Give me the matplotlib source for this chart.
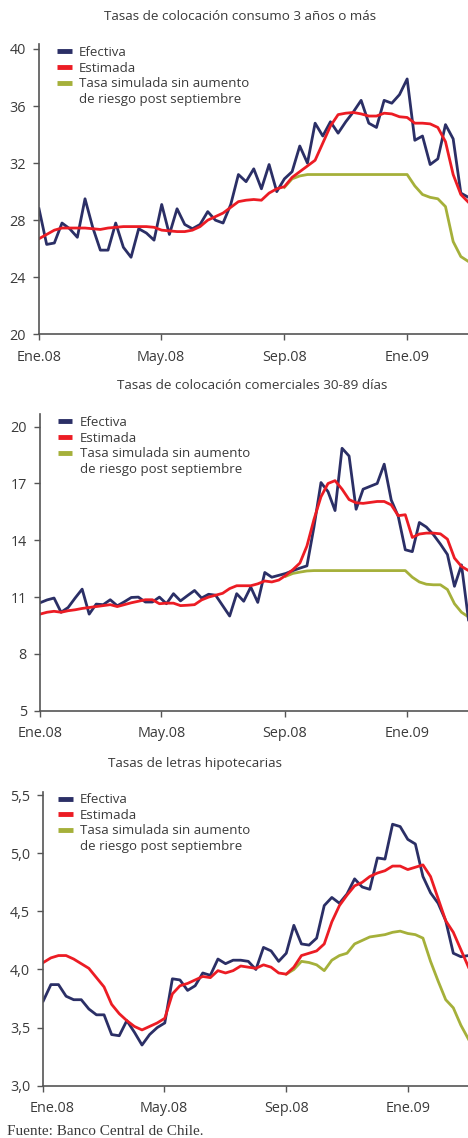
import numpy as np
import matplotlib
matplotlib.use("Agg")
import matplotlib.pyplot as plt
from matplotlib.lines import Line2D
from matplotlib.transforms import ScaledTranslation

plt.rcParams['font.family'] = ['Open Sans', 'DejaVu Sans']

AZUL = '#2b2f66'
ROJO = '#ec1c24'
VERDE = '#a5b03a'
GRIS = '#3a3a3a'
EJE = '#555555'

# eje x en días desde el 1 de enero de 2008
tick_dias = [0, 121, 244, 366]
tick_meses = ['Ene.08', 'May.08', 'Sep.08', 'Ene.09']

# Tasas de colocación consumo 3 años o más (4 obs. por mes)
cons_efectiva = [28.8, 26.3, 26.4, 27.8, 27.4, 26.8, 29.5, 27.5, 25.9, 25.9,
                 27.8, 26.1, 25.4, 27.4, 27.1, 26.6, 29.1, 27.0, 28.8, 27.7,
                 27.4, 27.7, 28.6, 28.0, 27.8, 29.1, 31.2, 30.7, 31.6, 30.2,
                 31.9, 30.0, 30.9, 31.4, 33.2, 32.0, 34.8, 33.9, 34.9, 34.1,
                 34.9, 35.6, 36.4, 34.8, 34.5, 36.4, 36.2, 36.8, 37.9, 33.6,
                 33.9, 31.9, 32.3, 34.7, 33.7, 29.9, 29.6]
cons_estimada = [26.7, 27.0, 27.3, 27.45, 27.45, 27.45, 27.45, 27.4, 27.35, 27.45,
                 27.5, 27.55, 27.55, 27.55, 27.55, 27.5, 27.3, 27.25, 27.2, 27.2,
                 27.3, 27.55, 28.0, 28.25, 28.5, 28.9, 29.3, 29.4, 29.45, 29.4,
                 29.9, 30.2, 30.35, 31.0, 31.4, 31.8, 32.2, 33.4, 34.6, 35.4,
                 35.5, 35.55, 35.45, 35.3, 35.3, 35.5, 35.45, 35.25, 35.2, 34.8,
                 34.8, 34.75, 34.5, 33.5, 31.2, 29.8, 29.25]
# desde Sep.08
cons_simulada = [30.3, 30.9, 31.1, 31.2, 31.2, 31.2, 31.2, 31.2, 31.2, 31.2,
                 31.2, 31.2, 31.2, 31.2, 31.2, 31.2, 31.2, 30.4, 29.8, 29.6,
                 29.5, 28.95, 26.5, 25.45, 25.1]

# Tasas de colocación comerciales 30-89 días (semanal)
com_efectiva = [10.7, 10.85, 10.95, 10.2, 10.45, 10.95, 11.42, 10.1, 10.63, 10.6,
                10.86, 10.54, 10.75, 10.98, 11.0, 10.74, 10.74, 11.0, 10.65, 11.18,
                10.8, 11.08, 11.35, 10.95, 11.15, 11.1, 10.55, 10.0, 11.18, 10.78,
                11.53, 10.72, 12.3, 12.05, 12.15, 12.25, 12.4, 12.53, 12.65, 14.7,
                17.05, 16.57, 15.57, 18.86, 18.45, 15.64, 16.7, 16.85, 17.0, 18.02,
                16.13, 15.26, 13.5, 13.4, 14.94, 14.7, 14.3, 13.8, 13.25, 11.57,
                12.7, 9.8]
com_estimada = [10.1, 10.2, 10.25, 10.2, 10.28, 10.33, 10.4, 10.45, 10.5, 10.55,
                10.6, 10.5, 10.6, 10.7, 10.78, 10.86, 10.86, 10.65, 10.68, 10.68,
                10.55, 10.57, 10.6, 10.85, 11.0, 11.1, 11.2, 11.45, 11.6, 11.6,
                11.6, 11.7, 11.85, 11.8, 11.9, 12.15, 12.45, 12.8, 13.7, 15.1,
                16.3, 17.0, 17.15, 16.7, 16.15, 15.98, 15.95, 16.0, 16.05, 16.05,
                15.87, 15.3, 15.35, 14.15, 14.33, 14.38, 14.38, 14.34, 14.06, 13.06,
                12.62, 12.4]
# desde Sep.08
com_simulada = [12.1, 12.25, 12.32, 12.38, 12.4, 12.4, 12.4, 12.4, 12.4, 12.4,
                12.4, 12.4, 12.4, 12.4, 12.4, 12.4, 12.4, 12.4, 12.05, 11.8,
                11.68, 11.65, 11.65, 11.4, 10.65, 10.2, 9.95]

# Tasas de letras hipotecarias (4 obs. por mes)
hip_efectiva = [3.73, 3.87, 3.87, 3.77, 3.74, 3.74, 3.66, 3.61, 3.61, 3.44,
                3.43, 3.56, 3.46, 3.35, 3.44, 3.50, 3.54, 3.92, 3.91, 3.82,
                3.86, 3.97, 3.95, 4.09, 4.05, 4.08, 4.08, 4.07, 4.0, 4.19,
                4.16, 4.07, 4.14, 4.38, 4.22, 4.21, 4.27, 4.55, 4.62, 4.57,
                4.65, 4.78, 4.71, 4.69, 4.96, 4.95, 5.25, 5.23, 5.12, 5.08,
                4.80, 4.66, 4.57, 4.42, 4.14, 4.11, 4.12]
hip_estimada = [4.06, 4.10, 4.12, 4.12, 4.09, 4.05, 4.01, 3.93, 3.85, 3.70,
                3.62, 3.56, 3.51, 3.48, 3.51, 3.54, 3.58, 3.79, 3.86, 3.88,
                3.91, 3.94, 3.93, 3.99, 3.97, 3.99, 4.03, 4.02, 4.01, 4.04,
                4.02, 3.97, 3.96, 4.02, 4.12, 4.14, 4.16, 4.22, 4.41, 4.55,
                4.64, 4.72, 4.75, 4.80, 4.83, 4.85, 4.89, 4.89, 4.86, 4.88,
                4.90, 4.80, 4.61, 4.42, 4.32, 4.17, 4.02]
# desde Sep.08
hip_simulada = [3.96, 4.0, 4.07, 4.06, 4.04, 3.99, 4.08, 4.12, 4.14, 4.22,
                4.25, 4.28, 4.29, 4.30, 4.32, 4.33, 4.31, 4.30, 4.27, 4.07,
                3.90, 3.74, 3.67, 3.52, 3.40]

cons_x = np.arange(len(cons_efectiva)) * 366 / 48
com_x = np.arange(len(com_efectiva)) * 7
hip_x = np.arange(len(hip_efectiva)) * 366 / 48

etiquetas = ['Efectiva', 'Estimada', 'Tasa simulada sin aumento', 'de riesgo post septiembre']

W, H = 468, 1138
fig = plt.figure(figsize=(W / 100, H / 100), dpi=100)


def rect(left, top, bottom):
	return [left / W, 1 - bottom / H, 1 - left / W, (bottom - top) / H]


def panel(r, x, ef, es, sim, ylim, yticks, ylabels, leg_x, leg_y):
	ax = fig.add_axes(r)
	xs = x[len(x) - len(sim):]
	ax.plot(xs, sim, color=VERDE, lw=2.0, solid_joinstyle='round')
	ax.plot(x, ef, color=AZUL, lw=2.0, solid_joinstyle='round')
	ax.plot(x, es, color=ROJO, lw=2.0, solid_joinstyle='round')
	ax.set_xlim(0, 426.5)
	ax.set_ylim(*ylim)
	ax.set_xticks(tick_dias)
	ax.set_xticklabels(tick_meses)
	ax.set_yticks(yticks)
	ax.set_yticklabels(ylabels)
	for s in ['top', 'right']:
		ax.spines[s].set_visible(False)
	for s in ['left', 'bottom']:
		ax.spines[s].set_color(EJE)
		ax.spines[s].set_linewidth(1.2)
	ax.tick_params(axis='y', direction='out', length=4.5, width=1, color=EJE,
				   labelsize=10.4, labelcolor=GRIS, pad=5)
	ax.tick_params(axis='x', direction='out', length=4.5, width=1, color=EJE,
				   labelsize=10.4, labelcolor=GRIS, pad=6.5)
	handles = [Line2D([0], [0], color=AZUL, lw=3.5, solid_capstyle='butt'),
			   Line2D([0], [0], color=ROJO, lw=3.5, solid_capstyle='butt'),
			   Line2D([0], [0], color=VERDE, lw=3.5, solid_capstyle='butt'),
			   Line2D([0], [0], color='none')]
	ax.legend(handles, etiquetas, loc='upper left', bbox_to_anchor=(leg_x, leg_y),
			  frameon=False, fontsize=9.5, handlelength=1.1, handletextpad=0.55,
			  labelspacing=0.2, borderpad=0, borderaxespad=0, labelcolor=GRIS)
	return ax


ax1 = panel(rect(39, 44, 334.3), cons_x, cons_efectiva, cons_estimada, cons_simulada,
			(20, 40.35), [20, 24, 28, 32, 36, 40], ['20', '24', '28', '32', '36', '40'],
			0.042, 0.993)
ax2 = panel(rect(40, 414, 710.7), com_x, com_efectiva, com_estimada, com_simulada,
			(5, 20.67), [5, 8, 11, 14, 17, 20], ['5', '8', '11', '14', '17', '20'],
			0.042, 0.993)
hip_ticks = [3.0, 3.5, 4.0, 4.5, 5.0, 5.5]
ax3 = panel(rect(43.3, 791.7, 1085.7), hip_x, hip_efectiva, hip_estimada, hip_simulada,
			(3.0, 5.53), hip_ticks, [f'{v:.1f}'.replace('.', ',') for v in hip_ticks],
			0.035, 0.995)

# la primera etiqueta del último panel va algo corrida a la derecha
lab = ax3.get_xticklabels()[0]
lab.set_transform(lab.get_transform() + ScaledTranslation(0.09, 0, fig.dpi_scale_trans))

fig.text(240 / W, 1 - 16 / H, 'Tasas de colocación consumo 3 años o más',
		 ha='center', va='center', fontsize=9.7, color=GRIS)
fig.text(252 / W, 1 - 385 / H, 'Tasas de colocación comerciales 30-89 días',
		 ha='center', va='center', fontsize=9.7, color=GRIS)
fig.text(194.5 / W, 1 - 763 / H, 'Tasas de letras hipotecarias',
		 ha='center', va='center', fontsize=9.7, color=GRIS)
fig.text(7 / W, 1 - 1131.5 / H, 'Fuente: Banco Central de Chile.',
		 ha='left', va='center', fontsize=11, color=GRIS, family=['Liberation Serif'])

fig.savefig('out.png', dpi=100)
